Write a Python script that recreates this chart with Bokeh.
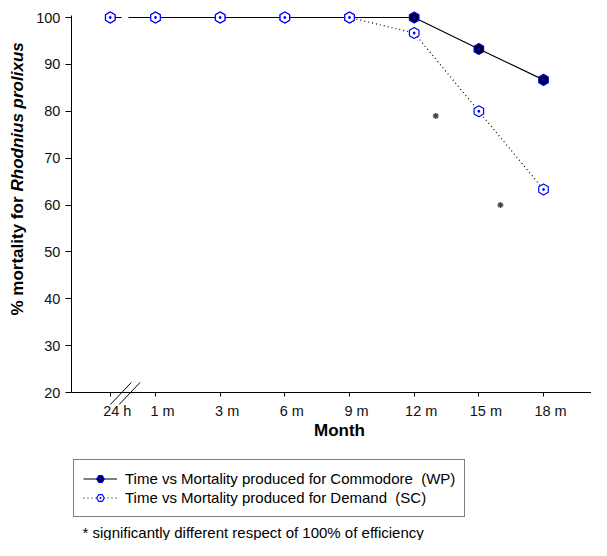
import math
import numpy as np
from bokeh.plotting import figure
from bokeh.models import Range1d, FixedTicker, Label, Legend, LegendItem
from bokeh.core.properties import value
from bokeh.embed import file_html
from bokeh.resources import INLINE

# ---- data ----
months = ["24 h", "1 m", "3 m", "6 m", "9 m", "12 m", "15 m", "18 m"]
month_numbers = [1, 3, 6, 9, 12, 15, 18]          # months for "1 m" .. "18 m"
commodore = [100, 100, 100, 100, 100, 100, 93.3, 86.7]
demand = [100, 100, 100, 100, 100, 96.7, 80.0, 63.3]
y_ticks = [20, 30, 40, 50, 60, 70, 80, 90, 100]
star_months = [13, 16]
star_values = [79, 60]
label_wp = "Time vs Mortality produced for Commodore  (WP)"
label_sc = "Time vs Mortality produced for Demand  (SC)"
footnote = "* significantly different respect of 100% of efficiency"
x_title = "Month"
y_title_plain = "% mortality for "
y_title_italic = "Rhodnius prolixus"

# ---- positions on the (broken) axis ----
x_pos = [3] + [10 * (i + 1) for i in range(len(month_numbers))]
brk = 5.3          # axis break between "24 h" and "1 m"
x_axis_at = -3     # where the y axis stands
y_min, y_max = 20, 100.4
star_x = list(np.interp(star_months, month_numbers, x_pos[1:]))


def broken(vals):
    xs = [x_pos[0], brk - 0.55, np.nan, brk + 0.55] + x_pos[1:]
    ys = [vals[0], vals[0], np.nan, vals[1]] + vals[1:]
    return xs, ys


W, H = 591, 540
p = figure(width=W, height=H, output_backend="svg", toolbar_location=None,
           x_range=Range1d(-13.97, 77.42), y_range=Range1d(-11.57, 103.63),
           min_border=0)
p.outline_line_color = None
p.xgrid.visible = False
p.ygrid.visible = False

FONT = "Liberation Sans"

# x axis (drawn at y = 20 inside the frame); its labels are drawn as text below
xa = p.xaxis[0]
xa.fixed_location = y_min
xa.bounds = (x_axis_at, 77.42)
xa.ticker = FixedTicker(ticks=x_pos)
xa.major_label_text_font_size = "0px"
xa.major_label_text_alpha = 0
xa.minor_tick_line_color = None
xa.major_tick_in = 0
xa.major_tick_out = 4
xa.axis_line_color = "#000000"
xa.major_tick_line_color = "#000000"

p.text(x=x_pos, y=[y_min] * len(x_pos), text=months, x_offset=7, y_offset=10,
       text_align="center", text_baseline="top", text_font=value(FONT),
       text_font_size="14.5px", text_color="#111111")

# y axis (drawn at x = -3 inside the frame)
ya = p.yaxis[0]
ya.fixed_location = x_axis_at
ya.bounds = (y_min, y_max)
ya.ticker = FixedTicker(ticks=y_ticks)
ya.minor_tick_line_color = None
ya.major_tick_in = 0
ya.major_tick_out = 6
ya.major_label_standoff = 5
ya.major_label_text_font = FONT
ya.major_label_text_font_size = "14.5px"
ya.major_label_text_color = "#111111"
ya.axis_line_color = "#000000"
ya.major_tick_line_color = "#000000"

# axis titles
p.add_layout(Label(x=339, y=H - 430, x_units="screen", y_units="screen", text=x_title,
                   text_align="center", text_baseline="middle", text_font=FONT,
                   text_font_size="17px", text_font_style="bold", text_color="#000000"))
p.add_layout(Label(x=17, y=H - 315, x_units="screen", y_units="screen", text=y_title_plain,
                   angle=math.pi / 2, text_align="left", text_baseline="middle",
                   text_font=FONT, text_font_size="17px", text_font_style="bold",
                   text_color="#000000"))
p.add_layout(Label(x=17, y=H - 315 + 124, x_units="screen", y_units="screen",
                   text=y_title_italic,
                   angle=math.pi / 2, text_align="left", text_baseline="middle",
                   text_font=FONT, text_font_size="17px", text_font_style="bold italic",
                   text_color="#000000"))

# series
xs_c, ys_c = broken(commodore)
xs_d, ys_d = broken(demand)
l_c = p.line(xs_c, ys_c, line_color="#000000", line_width=1.2)
l_d = p.line(xs_d, ys_d, line_color="#000000", line_width=1.2, line_dash="1 3")
m_c = p.scatter(x_pos, commodore, marker="hex_dot", size=11, angle=math.pi / 6,
                fill_color="#000010", line_color="#0000ff", line_width=1.2)
m_d = p.scatter(x_pos, demand, marker="hex_dot", size=11, angle=math.pi / 6,
                fill_color="#ffffff", line_color="#0000ff", line_width=1.2)

# significance stars
p.scatter(star_x, star_values, marker="asterisk", size=6, line_color="#444444",
          line_width=1.3)

# axis break marks
for off in (-0.65, 0.7):
    p.segment(x0=[brk + off - 1.62], y0=[17.45], x1=[brk + off + 1.62], y1=[22.15],
              line_color="#000000", line_width=1)

legend = Legend(items=[LegendItem(label=label_wp, renderers=[l_c, m_c]),
                       LegendItem(label=label_sc, renderers=[l_d, m_d])],
                location=(73, 23), orientation="vertical",
                label_text_font=FONT, label_text_font_size="15px",
                label_text_color="#000000",
                label_height=19, glyph_height=19, glyph_width=34,
                label_standoff=8, padding=9, spacing=0, margin=0,
                border_line_color="#000000", border_line_width=1,
                background_fill_color="#ffffff", background_fill_alpha=1)
p.add_layout(legend)

p.add_layout(Label(x=82, y=8, x_units="screen", y_units="screen", text=footnote,
                   text_align="left", text_baseline="middle", text_font=FONT,
                   text_font_size="15px", text_color="#000000"))

open("out.html", "w").write(file_html(p, INLINE))
